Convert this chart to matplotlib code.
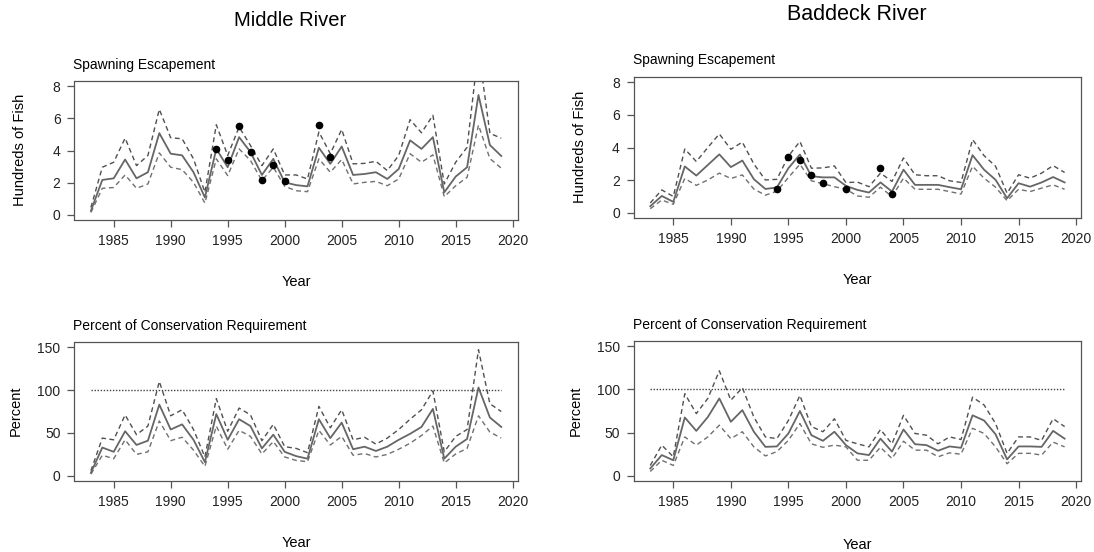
import matplotlib
matplotlib.use("Agg")
import matplotlib.pyplot as plt
import numpy as np

plt.rcParams['font.family'] = ['Liberation Sans', 'DejaVu Sans']

years = list(range(1983, 2020))

# Middle River - spawning escapement (hundreds of fish)
mid_esc = [0.25, 2.17, 2.27, 3.44, 2.27, 2.65, 5.08, 3.80, 3.70, 2.65, 1.08, 4.10, 2.96, 4.83,
           3.90, 2.48, 3.48, 2.02, 1.85, 1.77, 4.17, 3.17, 4.25, 2.48, 2.54, 2.65, 2.23, 2.85,
           4.63, 4.10, 4.83, 1.40, 2.38, 2.96, 7.45, 4.34, 3.66]
mid_esc_hi = [0.46, 2.96, 3.27, 4.77, 3.06, 3.69, 6.56, 4.79, 4.73, 3.48, 1.40, 5.60, 3.69, 5.46,
              4.31, 3.06, 4.10, 2.48, 2.48, 2.23, 5.15, 3.80, 5.31, 3.17, 3.20, 3.33, 2.75, 3.69,
              5.92, 5.10, 6.19, 1.92, 3.27, 4.20, 10.3, 5.07, 4.76]
mid_esc_lo = [0.15, 1.65, 1.70, 2.48, 1.65, 1.92, 3.85, 2.96, 2.81, 2.02, 0.73, 3.48, 2.44, 4.10,
              3.38, 2.13, 2.96, 1.77, 1.50, 1.44, 3.48, 2.65, 3.44, 1.92, 2.02, 2.08, 1.81, 2.23,
              3.80, 3.27, 3.73, 1.13, 1.81, 2.33, 5.58, 3.50, 2.90]
mid_obs_years = [1994, 1995, 1996, 1997, 1998, 1999, 2000, 2003, 2004]
mid_obs = [4.12, 3.42, 5.54, 3.88, 2.14, 3.12, 2.12, 5.57, 3.60]

# Middle River - percent of conservation requirement
mid_pct = [3.5, 33, 28, 52, 36, 41, 83, 54, 60, 42, 16, 72, 42, 66, 58, 32, 48, 28, 23, 20,
           66, 44, 62, 31, 34, 29, 34, 42, 49, 57, 78, 20, 34, 43, 103, 68, 57]
mid_pct_hi = [6, 44, 42, 71, 48, 58, 110, 70, 77, 54, 22, 90, 52, 79, 71, 41, 60, 34, 32, 27,
              81, 56, 77, 42, 45, 37, 44, 54, 66, 77, 99, 28, 46, 54, 147, 84, 75]
mid_pct_lo = [2, 24, 20, 42, 25, 28, 64, 41, 45, 30, 11, 58, 31, 53, 46, 25.5, 40, 22, 18, 16.5,
              53, 36, 46, 24, 26, 22, 25, 31, 38, 47, 58, 15, 25.5, 32, 70, 51, 44]

# Baddeck River - spawning escapement (hundreds of fish)
bad_esc = [0.40, 1.03, 0.67, 2.84, 2.28, 2.93, 3.58, 2.80, 3.20, 2.06, 1.46, 1.55, 2.73, 3.57,
           2.24, 2.17, 2.17, 1.65, 1.40, 1.24, 1.86, 1.30, 2.64, 1.71, 1.71, 1.71, 1.57, 1.44,
           3.53, 2.64, 2.02, 0.89, 1.81, 1.60, 1.86, 2.19, 1.86]
bad_esc_hi = [0.60, 1.40, 1.00, 3.91, 3.14, 4.00, 4.83, 3.89, 4.33, 2.99, 2.01, 2.05, 3.47, 4.37,
              2.73, 2.75, 2.87, 1.85, 1.88, 1.60, 2.43, 1.92, 3.36, 2.33, 2.27, 2.27, 1.96, 1.86,
              4.49, 3.50, 2.85, 1.20, 2.33, 2.12, 2.43, 2.89, 2.47]
bad_esc_lo = [0.25, 0.78, 0.52, 2.10, 1.68, 2.01, 2.43, 2.10, 2.32, 1.45, 1.08, 1.32, 2.16, 2.97,
              1.96, 1.78, 1.60, 1.44, 1.03, 0.95, 1.57, 0.99, 2.12, 1.44, 1.44, 1.44, 1.30, 1.15,
              2.85, 2.12, 1.57, 0.74, 1.44, 1.30, 1.51, 1.71, 1.44]
bad_obs_years = [1994, 1995, 1996, 1997, 1998, 2000, 2003, 2004]
bad_obs = [1.45, 3.44, 3.23, 2.29, 1.82, 1.45, 2.72, 1.13]

# Baddeck River - percent of conservation requirement
bad_pct = [8.5, 24, 18, 67.5, 52, 68, 89.5, 62.5, 76, 51, 33.5, 34, 49, 75, 47, 40.5, 51, 35.5,
           26, 24, 43, 28, 53.6, 36.6, 35.5, 29, 34, 32.4, 70, 64, 48, 19, 34, 34, 33.5, 52, 43]
bad_pct_hi = [12, 35.5, 22, 95, 72, 89.5, 121.5, 87.5, 102, 68, 45, 43, 64, 93, 57, 51, 66, 41,
              37, 33.5, 53.6, 37, 70, 49, 47, 37, 45, 42, 91, 82, 60.5, 26, 45, 45, 41, 66, 57]
bad_pct_lo = [5, 18, 12, 45, 35.5, 45, 58.6, 43, 51, 33.5, 23, 28, 41, 60.5, 37, 33, 35.5, 33.5,
              18, 18, 33, 20, 40, 29.7, 29.7, 22, 26.6, 25, 55, 49, 33.5, 14, 26, 26, 24, 39, 33.5]

conservation_ref = 100

W, H = 1094, 552
fig = plt.figure(figsize=(W / 100, H / 100), dpi=100)


def add_ax(left, right, top, bottom):
    return fig.add_axes([left / W, 1 - bottom / H, (right - left) / W, (bottom - top) / H])


def style(ax, ylim, yticks):
    ax.set_xlim(1981.56, 2020.44)
    ax.set_ylim(*ylim)
    ax.set_xticks([1985, 1990, 1995, 2000, 2005, 2010, 2015, 2020])
    ax.set_yticks(yticks)
    for s in ax.spines.values():
        s.set_color('#555555')
        s.set_linewidth(0.9)
    ax.tick_params(direction='out', length=5, width=0.9, color='#555555',
                   labelsize=10, pad=5, labelcolor='#222222')


def draw_series(ax, mean, hi, lo):
    ax.plot(years, hi, color='#505050', lw=1.0, dashes=(3.5, 2.5))
    ax.plot(years, lo, color='#707070', lw=1.0, dashes=(3.5, 2.5))
    ax.plot(years, mean, color='#666666', lw=1.3)


# Panels
ax1 = add_ax(74.5, 517.7, 81, 220)
ax2 = add_ax(633.7, 1081.2, 77, 218)
ax3 = add_ax(74.5, 517.7, 342, 481)
ax4 = add_ax(633.7, 1081.2, 341, 481)

for ax in (ax1, ax2):
    style(ax, (-0.32, 8.32), [0, 2, 4, 6, 8])
for ax in (ax3, ax4):
    style(ax, (-6, 156), [0, 50, 100, 150])

draw_series(ax1, mid_esc, mid_esc_hi, mid_esc_lo)
ax1.plot(mid_obs_years, mid_obs, 'o', color='black', ms=4.5)
draw_series(ax2, bad_esc, bad_esc_hi, bad_esc_lo)
ax2.plot(bad_obs_years, bad_obs, 'o', color='black', ms=4.5)

for ax, m, h, l in ((ax3, mid_pct, mid_pct_hi, mid_pct_lo), (ax4, bad_pct, bad_pct_hi, bad_pct_lo)):
    ax.plot([years[0], years[-1]], [conservation_ref, conservation_ref], color='#444444',
            lw=1.0, dashes=(1, 1.2))
    draw_series(ax, m, h, l)


def ftext(x, y, s, **kw):
    fig.text(x / W, 1 - y / H, s, **kw)


ftext(290, 20, 'Middle River', ha='center', va='center', fontsize=14.5)
ftext(857, 15, 'Baddeck River', ha='center', va='center', fontsize=15.5)

ftext(73, 65, 'Spawning Escapement', ha='left', va='center', fontsize=10)
ftext(633, 60, 'Spawning Escapement', ha='left', va='center', fontsize=10)
ftext(73, 326, 'Percent of Conservation Requirement', ha='left', va='center', fontsize=10)
ftext(633, 325, 'Percent of Conservation Requirement', ha='left', va='center', fontsize=10)

ftext(296, 282, 'Year', ha='center', va='center', fontsize=10.5)
ftext(857, 280, 'Year', ha='center', va='center', fontsize=10.5)
ftext(296, 543, 'Year', ha='center', va='center', fontsize=10.5)
ftext(857, 545, 'Year', ha='center', va='center', fontsize=10.5)

ftext(20, 150, 'Hundreds of Fish', ha='center', va='center', rotation=90, fontsize=10.5)
ftext(580, 147, 'Hundreds of Fish', ha='center', va='center', rotation=90, fontsize=10.5)
ftext(16, 411, 'Percent', ha='center', va='center', rotation=90, fontsize=10.5)
ftext(576, 411, 'Percent', ha='center', va='center', rotation=90, fontsize=10.5)

fig.savefig('out.png', dpi=100)
